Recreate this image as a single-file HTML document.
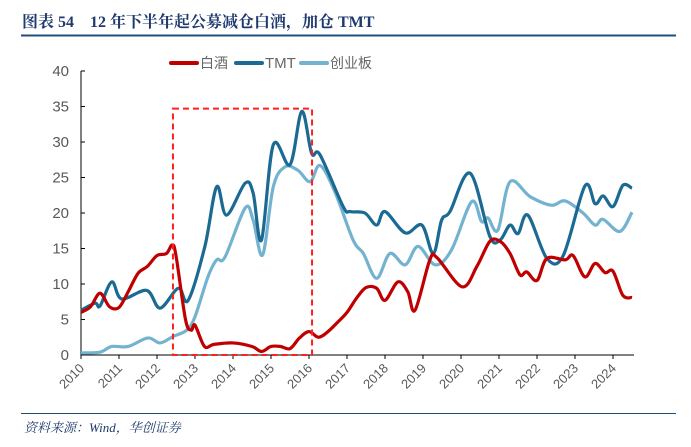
<!DOCTYPE html>
<html><head><meta charset="utf-8"><style>
body{margin:0;background:#fff;width:691px;height:442px;overflow:hidden;font-family:"Liberation Sans","Noto Sans CJK SC",sans-serif}
</style></head><body>
<svg width="691" height="442" xmlns="http://www.w3.org/2000/svg">
<text x="22" y="27" font-family="Liberation Serif,'Noto Serif CJK SC',serif" font-weight="bold" font-size="16" fill="#1f3a6e">图表 54　12 年下半年起公募减仓白酒，加仓 TMT</text>
<line x1="21" y1="35.5" x2="676" y2="35.5" stroke="#1f4e79" stroke-width="2"/>
<g id="legend">
<line x1="171" y1="63" x2="197" y2="63" stroke="#c00000" stroke-width="4" stroke-linecap="round"/>
<text x="200" y="68" font-size="14" fill="#666">白酒</text>
<line x1="236" y1="63" x2="262" y2="63" stroke="#1b6a93" stroke-width="4" stroke-linecap="round"/>
<text x="265" y="68" font-size="15" fill="#666">TMT</text>
<line x1="301" y1="63" x2="327" y2="63" stroke="#74b3cf" stroke-width="4" stroke-linecap="round"/>
<text x="330" y="68" font-size="14" fill="#666">创业板</text>
</g>
<g id="axes"></g>
<g id="series"></g>
<line x1="21" y1="413.5" x2="676" y2="413.5" stroke="#1f4e79" stroke-width="1"/>
<text x="24" y="432" font-size="13" font-style="italic" fill="#1f3a6e" font-family="Liberation Serif,'Noto Serif CJK SC',serif">资料来源：Wind，华创证券</text>
</svg>
<script>
const yTicks=[0,5,10,15,20,25,30,35,40];
const years=[2010,2011,2012,2013,2014,2015,2016,2017,2018,2019,2020,2021,2022,2023,2024];
const baijiuT=[2010.0,2010.25,2010.5,2010.75,2011.0,2011.25,2011.5,2011.75,2012.0,2012.25,2012.4,2012.5,2012.75,2012.9,2013.0,2013.25,2013.5,2014.0,2014.5,2014.75,2015.0,2015.25,2015.5,2015.75,2016.0,2016.25,2016.5,2016.75,2017.0,2017.25,2017.5,2017.78,2018.0,2018.34,2018.6,2018.79,2019.18,2019.37,2020.03,2020.42,2020.76,2021.03,2021.29,2021.55,2021.73,2022.0,2022.26,2022.74,2022.95,2023.26,2023.53,2023.79,2024.0,2024.26,2024.5];
const baijiuV=[6,6.8,8.7,6.8,6.7,9,11.5,12.5,14,14.3,15.5,14,5,3.5,4.2,1.2,1.5,1.7,1.2,0.5,1.2,1.2,0.9,2.4,3.3,2.5,3.3,4.6,6,8,9.5,9.4,7.7,10.3,8.9,6.3,13.4,13.7,9.6,12.5,16,16,14.3,11.3,11.7,10.5,13.6,13.4,14,11,12.9,11.6,11.8,8.4,8.1];
const tmtT=[2010.0,2010.37,2010.5,2010.81,2011.07,2011.73,2012.08,2012.56,2012.82,2013.26,2013.57,2013.83,2014.32,2014.53,2014.75,2015.06,2015.5,2015.81,2016.07,2016.29,2016.9,2017.08,2017.47,2017.78,2018.0,2018.53,2018.97,2019.27,2019.49,2019.71,2020.24,2020.76,2021.03,2021.29,2021.5,2021.76,2022.26,2022.69,2023.26,2023.53,2023.74,2024.0,2024.26,2024.5];
const tmtV=[6.3,7.3,6.9,10.3,7.9,9.1,6.6,9.4,7.7,15.3,23.7,19.7,24.2,22.8,16.2,29.6,26.8,34.3,28.4,28.2,20.9,20.2,20,18.3,20.2,17.2,18.3,14.3,19,20.2,25.6,16.7,16.2,18.3,17.1,19.7,13.6,14,23.8,21.3,22.4,20.9,23.9,23.5];
const cyT=[2010.0,2010.5,2010.81,2011.24,2011.76,2012.08,2012.42,2012.78,2013.0,2013.34,2013.57,2013.79,2014.32,2014.53,2014.78,2015.06,2015.37,2015.71,2016.03,2016.29,2016.68,2017.16,2017.43,2017.78,2018.13,2018.53,2018.87,2019.32,2019.75,2020.28,2020.54,2020.71,2020.97,2021.29,2021.82,2022.38,2022.74,2023.21,2023.53,2023.74,2024.18,2024.5];
const cyV=[0.3,0.4,1.2,1.2,2.4,1.7,2.6,3.5,5.4,11,13.4,13.8,20.7,19,14.1,23.7,26.5,26,24.4,26.7,23,16.2,14.3,10.8,14.3,12.7,15.3,12.7,14.8,21.6,18.8,19.3,17.6,24.4,22.3,21.1,21.7,20,18.3,19.1,17.4,20.1];
const boxRange=[2012.42,2016.08,34.7];
const X0=81,PX=38,Y0=355,PY=7.1,XEND=634;
function xs(t){return X0+(t-2010)*PX;}
function ys(v){return Y0-v*PY;}
const NS="http://www.w3.org/2000/svg";
function mk(tag,a,p){const e=document.createElementNS(NS,tag);for(const k in a)e.setAttribute(k,a[k]);p.appendChild(e);return e;}
const ax=document.getElementById('axes');
let yl=mk('line',{x1:X0,y1:ys(40),x2:X0,y2:Y0,stroke:'#000','stroke-width':1},ax);


let xl=mk('line',{x1:X0,y1:Y0,x2:XEND,y2:Y0,stroke:'#000','stroke-width':1},ax);


yTicks.forEach(v=>{
 const tk=mk('line',{x1:X0,y1:ys(v),x2:X0+4,y2:ys(v),stroke:'#000'},ax);
 
 
 const t=mk('text',{x:X0-12,y:ys(v)+5,'text-anchor':'end','font-size':15,fill:'#595959'},ax);
 t.textContent=v;
 
 
});
years.forEach(y=>{
 const x=xs(y);
 const tk=mk('line',{x1:x,y1:Y0,x2:x,y2:Y0+4,stroke:'#000'},ax);
 
 
 const t=mk('text',{x:x+4,y:Y0+14,'text-anchor':'end','font-size':13,fill:'#595959',transform:`rotate(-45 ${x+4} ${Y0+14})`},ax);
 t.textContent=y;
 
 
});
function pathOf(T,V){
 const P=T.map((t,i)=>[xs(t),ys(V[i])]);
 let d=`M${P[0][0]},${P[0][1]}`;
 for(let i=0;i<P.length-1;i++){
  const p0=P[i-1]||P[i],p1=P[i],p2=P[i+1],p3=P[i+2]||p2;
  const c1=[p1[0]+(p2[0]-p0[0])/6,p1[1]+(p2[1]-p0[1])/6];
  const c2=[p2[0]-(p3[0]-p1[0])/6,p2[1]-(p3[1]-p1[1])/6];
  d+=` C${c1[0]},${c1[1]} ${c2[0]},${c2[1]} ${p2[0]},${p2[1]}`;
 }
 return d;
}
const sg=document.getElementById('series');
let s1=mk('path',{d:pathOf(cyT,cyV),fill:'none',stroke:'#74b3cf','stroke-width':3.2,'stroke-linejoin':'round'},sg);


let s2=mk('path',{d:pathOf(tmtT,tmtV),fill:'none',stroke:'#1b6a93','stroke-width':3.2,'stroke-linejoin':'round'},sg);


let s3=mk('path',{d:pathOf(baijiuT,baijiuV),fill:'none',stroke:'#c00000','stroke-width':3.2,'stroke-linejoin':'round'},sg);


let bx=mk('rect',{x:xs(boxRange[0]),y:ys(boxRange[2]),width:xs(boxRange[1])-xs(boxRange[0]),height:Y0-ys(boxRange[2]),fill:'none',stroke:'#ff1f1f','stroke-width':2,'stroke-dasharray':'6,4'},sg);


</script>
</body></html>
